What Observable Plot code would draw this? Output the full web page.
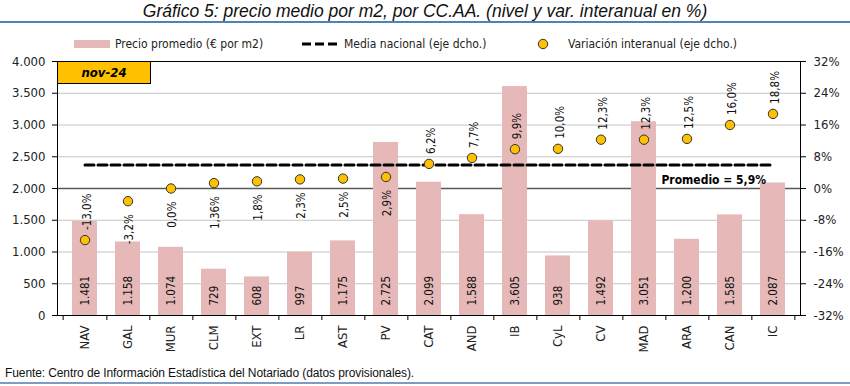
<!DOCTYPE html>
<html>
<head>
<meta charset="utf-8">
<script src="https://cdn.jsdelivr.net/npm/d3@7"></script>
<script src="https://cdn.jsdelivr.net/npm/@observablehq/plot@0.6"></script>
<style>
  body { margin: 0; background: #fff; }
  #wrap { position: relative; width: 850px; height: 386px; overflow: hidden; background: #fff;
          font-family: "DejaVu Sans Condensed", "DejaVu Sans", sans-serif; color: #222; }
  #chart { position: absolute; left: 0; top: 0; }
  .abs { position: absolute; white-space: nowrap; }
  #title { left: 0; top: 1px; width: 850px; text-align: center; font-family: "Liberation Sans", Arial, sans-serif;
           font-style: italic; font-size: 17.5px; line-height: 20px; color: #111; }
  #titleRule { left: 0; top: 21px; width: 850px; height: 2px; background: #4F81BD; }
  .leg { font-size: 12px; line-height: 14px; top: 37px; color: #222; }
  #footer { left: 5px; top: 366px; font-family: "Liberation Sans", Arial, sans-serif; font-size: 12px; line-height: 14px; color: #111; letter-spacing: -0.1px; }
  #footRule { left: 0; top: 382px; width: 850px; height: 2px; background: #7F9CC0; }
  #badge { left: 57px; top: 61px; width: 92px; height: 21px; background: #FFC000; border: 1px solid #000;
           font-weight: bold; font-style: italic; font-size: 13px; line-height: 21px; text-align: center; color: #000; }
</style>
</head>
<body>
<div id="wrap">
  <div id="chart"></div>
  <div id="title" class="abs">Gráfico 5: precio medio por m2, por CC.AA. (nivel y var. interanual en %)</div>
  <div id="titleRule" class="abs"></div>
  <div class="abs" style="left:74px;top:40px;width:36px;height:8px;background:#E6B9B8;"></div>
  <div class="abs leg" style="left:115px;">Precio promedio (€ por m2)</div>
  <svg class="abs" style="left:300px;top:40px;" width="40" height="8"><line x1="2" x2="38" y1="4" y2="4" stroke="#000" stroke-width="3" stroke-dasharray="9,4"/></svg>
  <div class="abs leg" style="left:344px;">Media nacional (eje dcho.)</div>
  <svg class="abs" style="left:536px;top:37px;" width="14" height="14"><circle cx="7" cy="7" r="4.7" fill="#FFC000" stroke="#333" stroke-width="1"/></svg>
  <div class="abs leg" style="left:568px;">Variación interanual (eje dcho.)</div>
  <div id="badge" class="abs">nov-24</div>
  <div id="footer" class="abs">Fuente: Centro de Información Estadística del Notariado (datos provisionales).</div>
  <div id="footRule" class="abs"></div>
</div>
<script>
// ---- data ----
const categories = ["NAV","GAL","MUR","CLM","EXT","LR","AST","PV","CAT","AND","IB","CyL","CV","MAD","ARA","CAN","IC"];
const prices = [1481,1158,1074,729,608,997,1175,2725,2099,1588,3605,938,1492,3051,1200,1585,2087];
const variation = [-13.0,-3.2,0.0,1.36,1.8,2.3,2.5,2.9,6.2,7.7,9.9,10.0,12.3,12.3,12.5,16.0,18.8];
const variationLabels = ["-13,0%","-3,2%","0,0%","1,36%","1,8%","2,3%","2,5%","2,9%","6,2%","7,7%","9,9%","10,0%","12,3%","12,3%","12,5%","16,0%","18,8%"];
const nationalAverage = 5.9;
const averageLabel = "Promedio = 5,9%";
const leftTicks = [0,500,1000,1500,2000,2500,3000,3500,4000];
const rightTicks = [-32,-24,-16,-8,0,8,16,24,32];
const leftDomain = [0, 4000];
const rightDomain = [-32, 32];

// ---- helpers ----
const toLeft = p => (p - rightDomain[0]) / (rightDomain[1] - rightDomain[0]) * (leftDomain[1] - leftDomain[0]) + leftDomain[0];
const fromLeft = v => Math.round((v - leftDomain[0]) / (leftDomain[1] - leftDomain[0]) * (rightDomain[1] - rightDomain[0]) + rightDomain[0]);
const es = d3.formatLocale({decimal: ",", thousands: ".", grouping: [3], currency: ["", "€"]});
const fmt = es.format(",");

const data = categories.map((c, i) => ({cat: c, price: prices[i], v: variation[i], vlabel: variationLabels[i]}));
// labels of points lying just under the average line are placed below the point (as in the original)
const isBelow = d => d.v > -5 && d.v < nationalAverage;
const above = data.filter(d => !isBelow(d));
const below = data.filter(isBelow);

const W = 850, H = 386, mL = 57, mR = 50, mT = 61, mB = 71;
const step = (W - mL - mR) / categories.length;

const chart = Plot.plot({
  width: W, height: H,
  marginLeft: mL, marginRight: mR, marginTop: mT, marginBottom: mB,
  style: {fontFamily: "'DejaVu Sans Condensed', 'DejaVu Sans', sans-serif", fontSize: "13px", color: "#222", background: "transparent", overflow: "visible"},
  x: {domain: categories, paddingInner: 0.43, paddingOuter: 0.215, label: null},
  y: {domain: leftDomain, label: null},
  marks: [
    Plot.ruleY(leftTicks.filter(t => t !== leftDomain[0] && t !== leftDomain[1] && t !== toLeft(0)), {stroke: "#C4C4C4", strokeWidth: 1}),
    Plot.ruleY([toLeft(0)], {stroke: "#595959", strokeWidth: 1.3}),
    Plot.barY(data, {x: "cat", y: "price", fill: "#E6B9B8"}),
    Plot.text(data, {x: "cat", y: 0, text: d => fmt(d.price), rotate: -90, textAnchor: "start", dy: -10, fontSize: 11.5, fill: "#111"}),
    Plot.lineY(categories, {x: d => d, y: () => toLeft(nationalAverage), stroke: "#000", strokeWidth: 3, strokeDasharray: "9,4"}),
    Plot.dot(data, {x: "cat", y: d => toLeft(d.v), r: 4.7, fill: "#FFC000", stroke: "#333", strokeWidth: 1}),
    Plot.text(above, {x: "cat", y: d => toLeft(d.v), text: "vlabel", rotate: -90, textAnchor: "start", dy: -10, dx: 2, fontSize: 11.5, fill: "#111"}),
    Plot.text(below, {x: "cat", y: d => toLeft(d.v), text: "vlabel", rotate: -90, textAnchor: "end", dy: 13, dx: 1, fontSize: 11.5, fill: "#111"}),
    Plot.text([averageLabel], {x: () => categories[categories.length - 1], y: () => toLeft(nationalAverage), text: d => d, textAnchor: "end", dx: -7, dy: 15, fontWeight: "bold", fontSize: 12, fill: "#000"}),
    Plot.frame({stroke: "#000", strokeWidth: 1}),
    Plot.axisY(leftTicks, {anchor: "left", tickSize: 5, tickPadding: 7, tickFormat: fmt, stroke: "#000", fontSize: 13}),
    Plot.axisY(rightTicks.map(toLeft), {anchor: "right", tickSize: 5, tickPadding: 8, tickFormat: v => fromLeft(v) + "%", stroke: "#000", fontSize: 13, label: null}),
    Plot.axisX({anchor: "bottom", tickSize: 0, tickPadding: 10, tickRotate: -90, fontSize: 13, label: null}),
    Plot.ruleX(categories, {x: d => d, dx: step / 2, y1: 0, y2: 0, insetBottom: -5, stroke: "#000"}),
    Plot.ruleX([categories[0]], {x: d => d, dx: -step / 2, y1: 0, y2: 0, insetBottom: -5, stroke: "#000"})
  ]
});
document.getElementById("chart").appendChild(chart);
</script>
</body>
</html>
